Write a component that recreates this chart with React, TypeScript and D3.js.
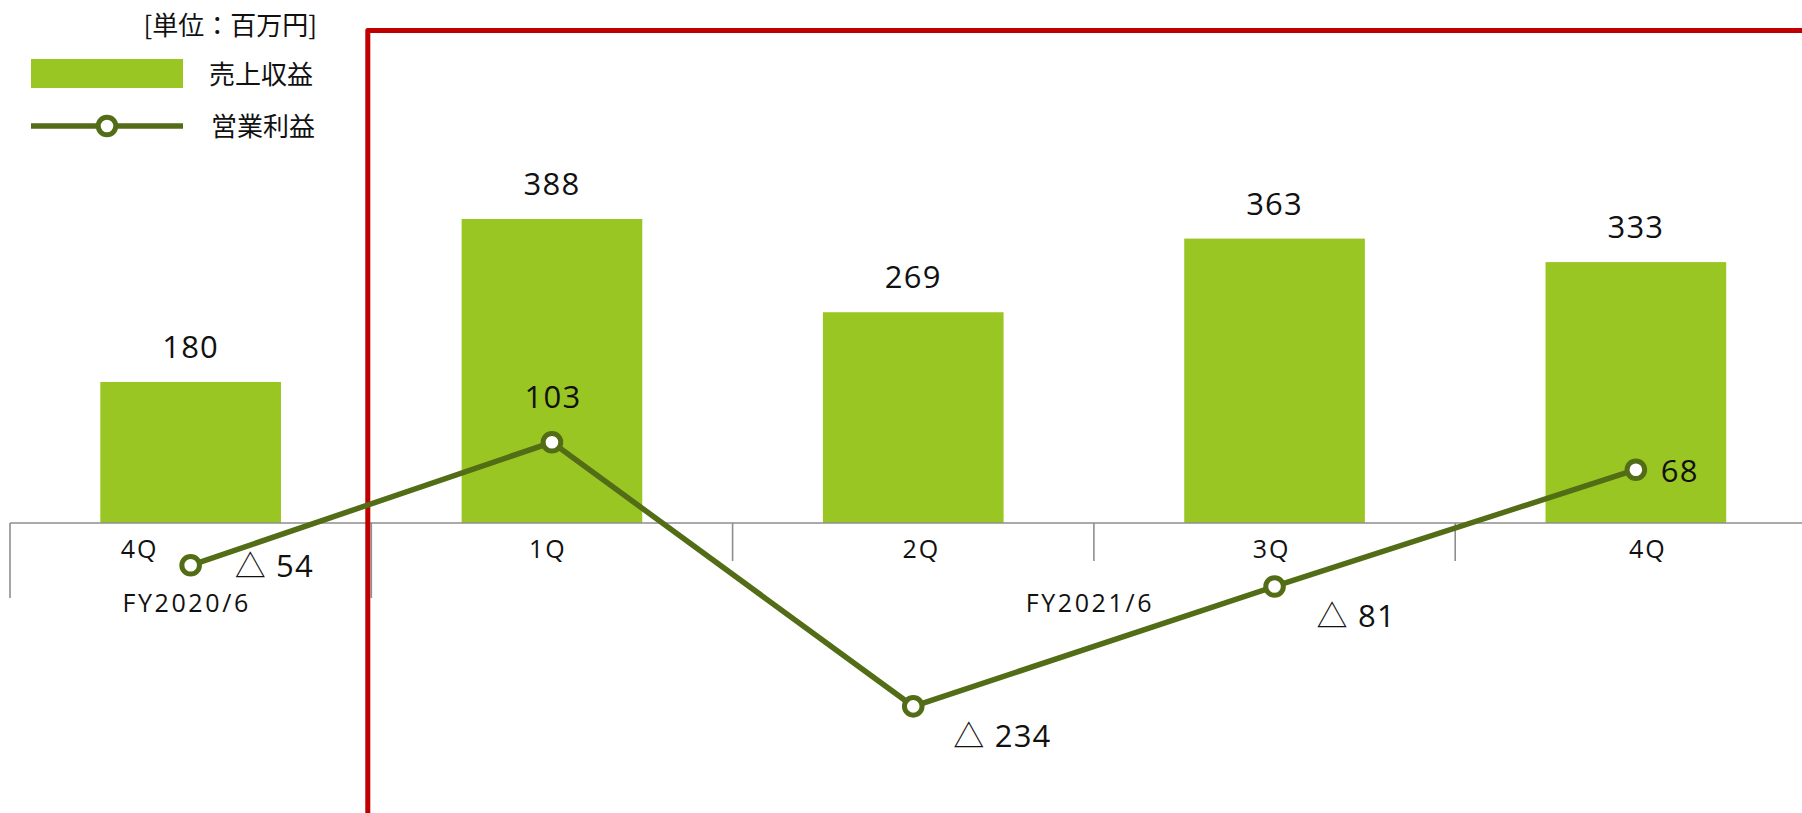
import React from "react";
import * as d3 from "d3";

// ---- data ----
const categoryIds = ["FY2020-4Q", "FY2021-1Q", "FY2021-2Q", "FY2021-3Q", "FY2021-4Q"];
const quarterLabels = ["4Q", "1Q", "2Q", "3Q", "4Q"];
const fiscalGroups = [
  { label: "FY2020/6", count: 1 },
  { label: "FY2021/6", count: 4 },
];
const revenue = [180, 388, 269, 363, 333]; // 売上収益
const operatingProfit = [-54, 103, -234, -81, 68]; // 営業利益
const unitLabel = "[単位：百万円]";
const seriesNames = ["売上収益", "営業利益"];

// ---- style ----
const W = 1802;
const H = 813;
const BAR_COLOR = "#99C623";
const LINE_COLOR = "#536C16";
const RED = "#C00000";
const AXIS_COLOR = "#8E8E8E";
const NUM_FONT = "'Open Sans', 'Noto Sans CJK JP', sans-serif";
const CJK_FONT = "'Noto Sans CJK JP', 'Noto Sans', sans-serif";

const fmt = (v: number) => (v < 0 ? `△ ${-v}` : `${v}`);

// label placement for line labels (layout, not data)
const lineLabelPlacement = [
  { anchor: "start", dx: 44, dy: 12 },
  { anchor: "middle", dx: 1, dy: -34 },
  { anchor: "start", dx: 40, dy: 41 },
  { anchor: "start", dx: 42, dy: 41 },
  { anchor: "start", dx: 25, dy: 12 },
];
const catLabelDx = [-51, -4, 8, -3, 12];

export default function App() {
  const x = d3
    .scaleBand<string>()
    .domain(categoryIds)
    .range([10, 1816.5])
    .paddingInner(0.5)
    .paddingOuter(0.25);
  const step = x.step();
  const bw = x.bandwidth();
  const x0 = 10;
  const y = d3.scaleLinear().domain([0, 400]).range([523, 523 - 400 * 0.7835]);
  const baseY = y(0);
  const cx = (i: number) => (x(categoryIds[i]) as number) + bw / 2;

  const line = d3
    .line<number>()
    .x((_, i) => cx(i))
    .y((d) => y(d));

  const groupBounds: { start: number; end: number; label: string }[] = [];
  const groupStartIdx = new Set<number>();
  let idx = 0;
  fiscalGroups.forEach((g) => {
    groupStartIdx.add(idx);
    groupBounds.push({ start: x0 + idx * step, end: x0 + (idx + g.count) * step, label: g.label });
    idx += g.count;
  });

  const redX = x0 + step - 3.5;

  const numText = {
    fontFamily: NUM_FONT,
    fontWeight: 400,
  } as const;

  return (
    <svg
      width={W}
      height={H}
      style={{ position: "absolute", left: 0, top: 0, background: "#fff" }}
    >
      <rect x={0} y={0} width={W} height={H} fill="#fff" />

      {/* bars */}
      {revenue.map((v, i) => (
        <rect
          key={"b" + i}
          x={x(categoryIds[i])}
          y={y(v)}
          width={bw}
          height={baseY - y(v)}
          fill={BAR_COLOR}
        />
      ))}

      {/* bar value labels */}
      {revenue.map((v, i) => (
        <text
          key={"bl" + i}
          x={cx(i)}
          y={y(v) - 24}
          textAnchor="middle"
          {...numText}
          fontSize={31}
          letterSpacing={1.2}
          fill="#111"
        >
          {fmt(v)}
        </text>
      ))}

      {/* axis line */}
      <line x1={x0} x2={W} y1={baseY} y2={baseY} stroke={AXIS_COLOR} strokeWidth={1.6} />
      {d3.range(categoryIds.length + 1).map((i) => {
        const tx = x0 + i * step;
        const long = groupStartIdx.has(i) || i === categoryIds.length;
        return (
          <line
            key={"t" + i}
            x1={tx}
            x2={tx}
            y1={baseY}
            y2={long ? 598 : 561}
            stroke={AXIS_COLOR}
            strokeWidth={1.6}
          />
        );
      })}

      {/* quarter labels */}
      {quarterLabels.map((q, i) => (
        <text
          key={"q" + i}
          x={cx(i) + catLabelDx[i]}
          y={558}
          textAnchor="middle"
          {...numText}
          fontSize={25}
          letterSpacing={2}
          fill="#111"
        >
          {q}
        </text>
      ))}

      {/* group labels */}
      {groupBounds.map((g, i) => (
        <text
          key={"g" + i}
          x={(g.start + g.end) / 2 - 4}
          y={612}
          textAnchor="middle"
          {...numText}
          fontSize={25}
          letterSpacing={2.6}
          fill="#111"
        >
          {g.label}
        </text>
      ))}

      {/* red frame */}
      <path
        d={`M${redX},${H + 10} L${redX},30.5 L${W + 10},30.5`}
        fill="none"
        stroke={RED}
        strokeWidth={5}
        strokeLinejoin="round"
      />

      {/* line */}
      <path d={line(operatingProfit) || ""} fill="none" stroke={LINE_COLOR} strokeWidth={5.5} />
      {operatingProfit.map((v, i) => (
        <circle
          key={"m" + i}
          cx={cx(i)}
          cy={y(v)}
          r={8.8}
          fill="#fff"
          stroke={LINE_COLOR}
          strokeWidth={5}
        />
      ))}
      {operatingProfit.map((v, i) => {
        const p = lineLabelPlacement[i];
        return (
          <text
            key={"ll" + i}
            x={cx(i) + p.dx}
            y={y(v) + p.dy}
            textAnchor={p.anchor as any}
            {...numText}
            fontSize={31}
            letterSpacing={1.2}
            fill="#111"
          >
            {fmt(v)}
          </text>
        );
      })}

      {/* legend */}
      <text x={317} y={35} textAnchor="end" fontFamily={CJK_FONT} fontSize={26} fill="#111">
        {unitLabel}
      </text>
      <rect x={31} y={59} width={152} height={29} fill={BAR_COLOR} />
      <text x={209} y={84} fontFamily={CJK_FONT} fontSize={26} fill="#111">
        {seriesNames[0]}
      </text>
      <line x1={31} x2={183} y1={126} y2={126} stroke={LINE_COLOR} strokeWidth={5.5} />
      <circle cx={107} cy={126} r={8.8} fill="#fff" stroke={LINE_COLOR} strokeWidth={5} />
      <text x={211} y={136} fontFamily={CJK_FONT} fontSize={26} fill="#111">
        {seriesNames[1]}
      </text>
    </svg>
  );
}
